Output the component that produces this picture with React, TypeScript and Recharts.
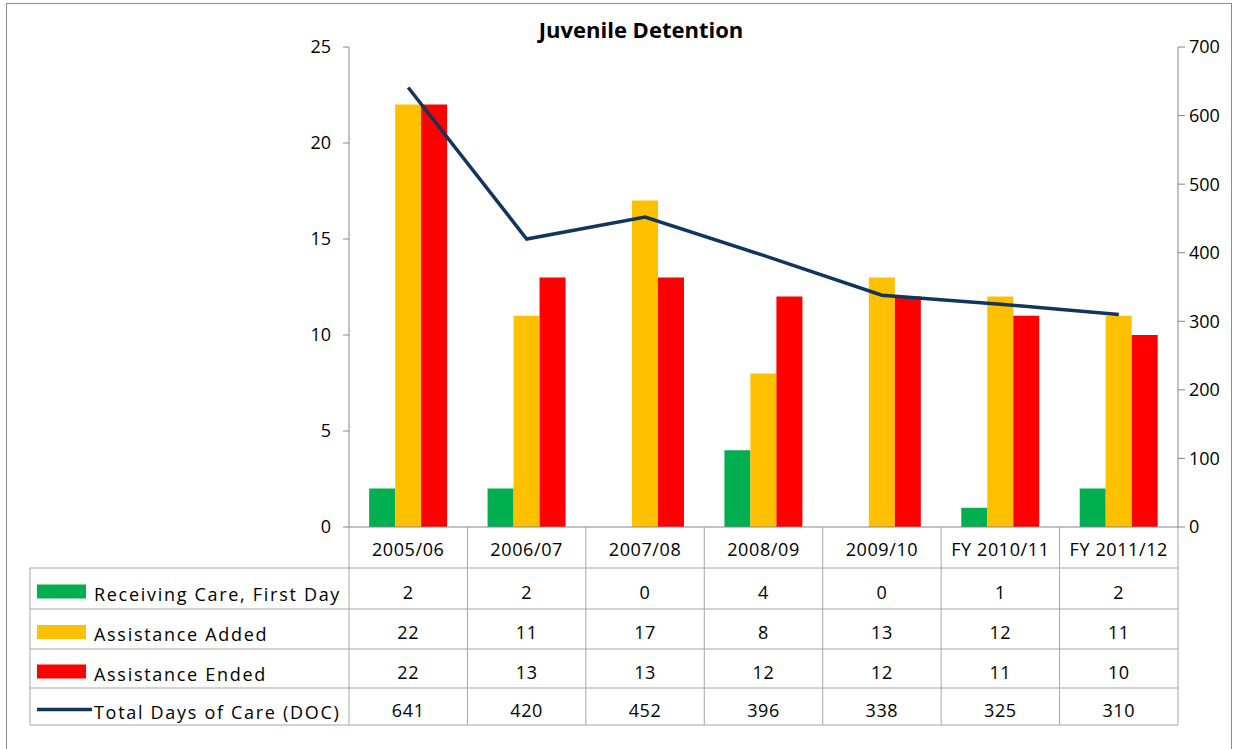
import React from 'react'
import { ComposedChart, Bar, Line, XAxis, YAxis } from 'recharts'

const CATEGORIES = ['2005/06', '2006/07', '2007/08', '2008/09', '2009/10', 'FY 2010/11', 'FY 2011/12']
const RECEIVING_CARE = [2, 2, 0, 4, 0, 1, 2]
const ASSISTANCE_ADDED = [22, 11, 17, 8, 13, 12, 11]
const ASSISTANCE_ENDED = [22, 13, 13, 12, 12, 11, 10]
const DAYS_OF_CARE = [641, 420, 452, 396, 338, 325, 310]
const LEFT_TICKS = [0, 5, 10, 15, 20, 25]
const RIGHT_TICKS = [0, 100, 200, 300, 400, 500, 600, 700]

const data = CATEGORIES.map((name, i) => ({
  name,
  receiving: RECEIVING_CARE[i],
  added: ASSISTANCE_ADDED[i],
  ended: ASSISTANCE_ENDED[i],
  doc: DAYS_OF_CARE[i],
}))

const SERIES = [
  { key: 'receiving', label: 'Receiving Care, First Day', color: '#00B050', type: 'bar', values: RECEIVING_CARE },
  { key: 'added', label: 'Assistance Added', color: '#FFC000', type: 'bar', values: ASSISTANCE_ADDED },
  { key: 'ended', label: 'Assistance Ended', color: '#FF0000', type: 'bar', values: ASSISTANCE_ENDED },
  { key: 'doc', label: 'Total Days of Care (DOC)', color: '#12355E', type: 'line', values: DAYS_OF_CARE },
]

const FONT = '"Open Sans", sans-serif'
const GRID = '#A6A6A6'
const AXIS = '#868686'
const TABLE_LEFT = 30
// row boundaries below the category axis
const ROWS = [41, 82, 122, 161, 198]

const TableTick = (props: any) => {
  const { x, y, payload, index, width } = props
  const colW = width / CATEGORIES.length
  const left = x - colW / 2
  const right = x + colW / 2
  const bottom = y + ROWS[ROWS.length - 1]
  return (
    <g>
      <line x1={left} x2={left} y1={y} y2={bottom} stroke={GRID} />
      {index === CATEGORIES.length - 1 && (
        <line x1={right} x2={right} y1={y} y2={bottom} stroke={GRID} />
      )}
      {ROWS.map((r) => (
        <line key={r} x1={left} x2={right} y1={y + r} y2={y + r} stroke={GRID} />
      ))}
      <text x={x} y={y + 29} textAnchor="middle" fontFamily={FONT} fontSize={18} fill="#000" letterSpacing={0.6}>
        {payload.value}
      </text>
      {SERIES.map((s, i) => (
        <text
          key={s.key}
          x={x}
          y={y + (ROWS[i] + ROWS[i + 1]) / 2 + 10}
          textAnchor="middle"
          fontFamily={FONT}
          fontSize={18}
          fill="#000"
          letterSpacing={0.6}
        >
          {s.values[index]}
        </text>
      ))}
      {index === 0 && (
        <g>
          <line x1={TABLE_LEFT} x2={TABLE_LEFT} y1={y + ROWS[0]} y2={bottom} stroke={GRID} />
          {ROWS.map((r) => (
            <line key={r} x1={TABLE_LEFT} x2={left} y1={y + r} y2={y + r} stroke={GRID} />
          ))}
          {SERIES.map((s, i) => {
            const cy = y + (ROWS[i] + ROWS[i + 1]) / 2
            return (
              <g key={s.key}>
                {s.type === 'bar' ? (
                  <rect x={37} y={cy - 4} width={49} height={14} fill={s.color} />
                ) : (
                  <line x1={37} x2={92} y1={cy + 3} y2={cy + 3} stroke={s.color} strokeWidth={3.5} />
                )}
                <text x={94} y={cy + 12} fontFamily={FONT} fontSize={18} fill="#000" letterSpacing={1.7}>
                  {s.label}
                </text>
              </g>
            )
          })}
        </g>
      )}
    </g>
  )
}

export default function App() {
  return (
    <div style={{ position: 'absolute', left: 0, top: 0, width: 1235, height: 749, background: '#fff', overflow: 'hidden' }}>
      <div
        style={{
          position: 'absolute', left: 6, top: 3, width: 1226, height: 760,
          border: '1.5px solid #8C8C8C', boxSizing: 'border-box',
        }}
      />
      <div
        style={{
          position: 'absolute', left: 0, top: 14, width: 1282, textAlign: 'center',
          fontFamily: FONT, fontWeight: 700, fontSize: 22, color: '#000',
        }}
      >
        Juvenile Detention
      </div>
      <ComposedChart
        width={1235}
        height={749}
        data={data}
        margin={{ top: 47, right: 0, left: 0, bottom: 22 }}
        barCategoryGap="17%"
        barGap={0}
      >
        <XAxis
          dataKey="name"
          height={200}
          interval={0}
          tickSize={0}
          tickMargin={0}
          tickLine={false}
          stroke={AXIS}
          tick={<TableTick />}
        />
        <YAxis
          yAxisId="left"
          width={349}
          domain={[0, 25]}
          ticks={LEFT_TICKS}
          stroke={AXIS}
          tickSize={6}
          tickMargin={12}
          tick={{ fill: '#000', fontSize: 18, fontFamily: FONT }}
        />
        <YAxis
          yAxisId="right"
          orientation="right"
          width={57}
          domain={[0, 700]}
          ticks={RIGHT_TICKS}
          stroke={AXIS}
          tickSize={7}
          tickMargin={4}
          tick={{ fill: '#000', fontSize: 18, fontFamily: FONT, textAnchor: 'start' }}
        />
        {SERIES.filter((s) => s.type === 'bar').map((s) => (
          <Bar key={s.key} yAxisId="left" dataKey={s.key} fill={s.color} isAnimationActive={false} />
        ))}
        <Line
          yAxisId="right"
          dataKey="doc"
          stroke="#12355E"
          strokeWidth={3.5}
          dot={false}
          activeDot={false}
          isAnimationActive={false}
        />
      </ComposedChart>
    </div>
  )
}
